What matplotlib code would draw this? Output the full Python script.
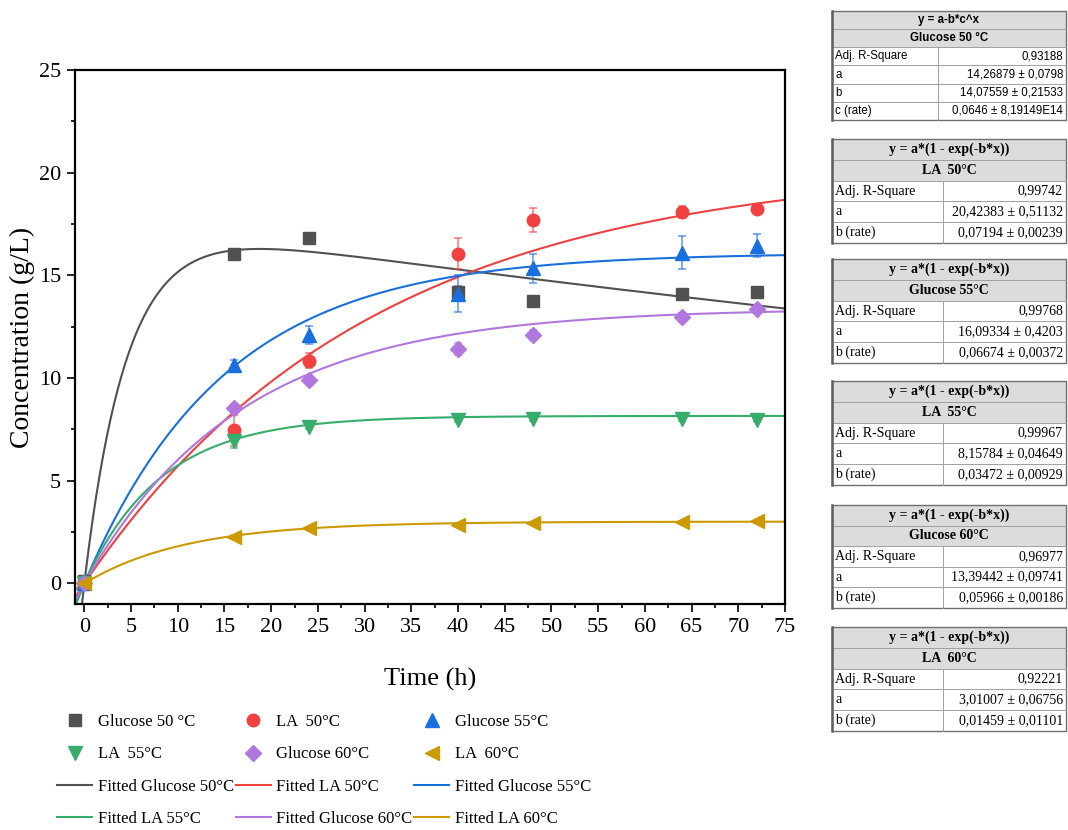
import numpy as np
import matplotlib.pyplot as plt
from matplotlib.patches import Rectangle
from matplotlib.ticker import MultipleLocator

plt.rcParams['font.family'] = ['Liberation Serif', 'DejaVu Serif']

# sampling times (h) and measured concentrations (g/L)
time_h = [0, 16, 24, 40, 48, 64, 72]
glucose_50 = [0.1, 16.05, 16.8, 14.2, 13.75, 14.1, 14.2]
la_50 = [0.0, 7.45, 10.85, 16.05, 17.7, 18.1, 18.25]
glucose_55 = [0.0, 10.65, 12.1, 14.1, 15.35, 16.1, 16.45]
la_55 = [0.0, 6.95, 7.64, 7.97, 8.03, 8.03, 7.98]
glucose_60 = [0.0, 8.55, 9.92, 11.4, 12.1, 12.95, 13.35]
la_60 = [0.0, 2.27, 2.71, 2.87, 2.95, 3.0, 3.03]

err_glucose_50 = [0, 0.1, 0.1, 0.3, 0.2, 0.1, 0.1]
err_la_50 = [0, 0.75, 0.35, 0.75, 0.6, 0.3, 0.2]
err_glucose_55 = [0, 0.25, 0.45, 0.9, 0.7, 0.8, 0.55]
err_la_55 = [0, 0.35, 0.1, 0.1, 0.1, 0.1, 0.1]
err_glucose_60 = [0, 0.2, 0.2, 0.3, 0.25, 0.2, 0.2]
err_la_60 = [0, 0.1, 0.05, 0.05, 0.05, 0.05, 0.05]

# fitted model parameters
fit_glucose_50 = [17.8, 0.0038, 0.22]    # A, k_out, k_in (rise / decay)
fit_la_50 = [20.42383, 0.0328]           # a, b
fit_glucose_55 = [16.09334, 0.06674]
fit_la_55 = [8.15784, 0.122]
fit_glucose_60 = [13.39442, 0.05966]
fit_la_60 = [3.01007, 0.092]

labels_data = ['Glucose 50 °C', 'LA  50°C', 'Glucose 55°C', 'LA  55°C', 'Glucose 60°C', 'LA  60°C']
labels_fit = ['Fitted Glucose 50°C', 'Fitted LA 50°C', 'Fitted Glucose 55°C',
              'Fitted LA 55°C', 'Fitted Glucose 60°C', 'Fitted LA 60°C']

# tables on the right
table_titles = ['y = a-b*c^x'] + ['y = a*(1 - exp(-b*x))'] * 5
table_subtitles = ['Glucose 50 °C', 'LA  50°C', 'Glucose 55°C', 'LA  55°C', 'Glucose 60°C', 'LA  60°C']
table_rows = [
    [('Adj. R-Square', '0,93188'), ('a', '14,26879 ± 0,0798'),
     ('b', '14,07559 ± 0,21533'), ('c (rate)', '0,0646 ± 8,19149E14')],
    [('Adj. R-Square', '0,99742'), ('a', '20,42383 ± 0,51132'), ('b (rate)', '0,07194 ± 0,00239')],
    [('Adj. R-Square', '0,99768'), ('a', '16,09334 ± 0,4203'), ('b (rate)', '0,06674 ± 0,00372')],
    [('Adj. R-Square', '0,99967'), ('a', '8,15784 ± 0,04649'), ('b (rate)', '0,03472 ± 0,00929')],
    [('Adj. R-Square', '0,96977'), ('a', '13,39442 ± 0,09741'), ('b (rate)', '0,05966 ± 0,00186')],
    [('Adj. R-Square', '0,92221'), ('a', '3,01007 ± 0,06756'), ('b (rate)', '0,01459 ± 0,01101')],
]

colors = ['#515151', '#F14040', '#1A6FDF', '#37AD6B', '#B177DE', '#CC9900']
markers = ['s', 'o', '^', 'v', 'D', '<']
msizes = [8, 9, 9.5, 9.5, 8, 9.5]

fig = plt.figure(figsize=(10.68, 8.30), dpi=100)

# table layer in pixel coordinates
tax = fig.add_axes([0, 0, 1, 1])
tax.set_xlim(0, 1068)
tax.set_ylim(830, 0)
tax.axis('off')

table_tops = [11, 139, 259, 381, 505, 627]
table_bottoms = [120, 243, 363, 485, 608, 731]
table_splits = [938, 943, 943, 943, 943, 943]
tl, tr = 832, 1066
for i in range(6):
    top, bot, split = table_tops[i], table_bottoms[i], table_splits[i]
    n = 2 + len(table_rows[i])
    h = (bot - top) / n
    if i == 0:
        fam, fs = 'Liberation Sans', 8.3
    else:
        fam, fs = 'Liberation Serif', 10
    tax.add_patch(Rectangle((tl, top), tr - tl, 2 * h, fc='#dcdcdc', ec='none'))
    for k in range(1, n):
        tax.plot([tl, tr], [top + k * h] * 2, color='#a0a0a0', lw=0.7)
    tax.plot([split, split], [top + 2 * h, bot], color='#a0a0a0', lw=0.7)
    tax.add_patch(Rectangle((tl, top), tr - tl, bot - top, fill=False, ec='#707070', lw=1.0))
    tax.plot([tl, tl], [top, bot], color='#606060', lw=1.8)
    tax.text((tl + tr) / 2, top + 0.5 * h, table_titles[i], ha='center', va='center',
             family=fam, size=fs, weight='bold')
    tax.text((tl + tr) / 2, top + 1.5 * h, table_subtitles[i], ha='center', va='center',
             family=fam, size=fs, weight='bold')
    for k, (name, val) in enumerate(table_rows[i]):
        yy = top + (2.5 + k) * h
        tax.text(tl + 3, yy, name, ha='left', va='center', family=fam, size=fs)
        tax.text(tr - 3, yy, val, ha='right', va='center', family=fam, size=fs)

# main plot
ax = fig.add_axes([75 / 1068, 1 - 604 / 830, 710 / 1068, 534 / 830])

xf = np.linspace(-1, 75, 600)
A, k1, k2 = fit_glucose_50
fits = [A * (np.exp(-k1 * xf) - np.exp(-k2 * xf))]
for a, b in [fit_la_50, fit_glucose_55, fit_la_55, fit_glucose_60, fit_la_60]:
    fits.append(a * (1 - np.exp(-b * xf)))

data = [glucose_50, la_50, glucose_55, la_55, glucose_60, la_60]
errs = [err_glucose_50, err_la_50, err_glucose_55, err_la_55, err_glucose_60, err_la_60]

data_handles = []
fit_handles = []
for i in range(6):
    fl, = ax.plot(xf, fits[i], color=colors[i], lw=1.5, zorder=2, label=labels_fit[i])
    fit_handles.append(fl)
    ax.errorbar(time_h, data[i], yerr=errs[i], fmt='none', ecolor=colors[i], alpha=0.65,
                elinewidth=1.2, capsize=3, capthick=1.2, zorder=3)
    dl, = ax.plot(time_h, data[i], linestyle='none', marker=markers[i], ms=msizes[i],
                  color=colors[i], mec=colors[i], zorder=4, label=labels_data[i])
    data_handles.append(dl)

ax.set_xlim(-1, 75)
ax.set_ylim(-1, 25)
ax.xaxis.set_major_locator(MultipleLocator(5))
ax.xaxis.set_minor_locator(MultipleLocator(2.5))
ax.yaxis.set_major_locator(MultipleLocator(5))
ax.yaxis.set_minor_locator(MultipleLocator(2.5))
ax.tick_params(which='major', direction='out', length=6, width=1.2, labelsize=16, pad=4)
ax.tick_params(which='minor', direction='out', length=3, width=1.2)
for s in ax.spines.values():
    s.set_linewidth(1.6)
ax.set_xlabel('Time (h)', fontsize=19, labelpad=22)
ax.set_ylabel('Concentration (g/L)', fontsize=20, labelpad=3)

# legend laid out row by row like the original (3 columns)
rows = [data_handles[0:3], data_handles[3:6], fit_handles[0:3], fit_handles[3:6]]
order = [rows[r][c] for c in range(3) for r in range(4)]
fig.legend(handles=order, labels=[h.get_label() for h in order], ncol=3,
           loc='upper left', bbox_to_anchor=(57 / 1068, 1 - 714 / 830),
           frameon=False, fontsize=12, handlelength=2.1, handletextpad=0.35,
           columnspacing=0.1, labelspacing=0.98, borderpad=0, borderaxespad=0)

fig.savefig('out.png', dpi=100)
